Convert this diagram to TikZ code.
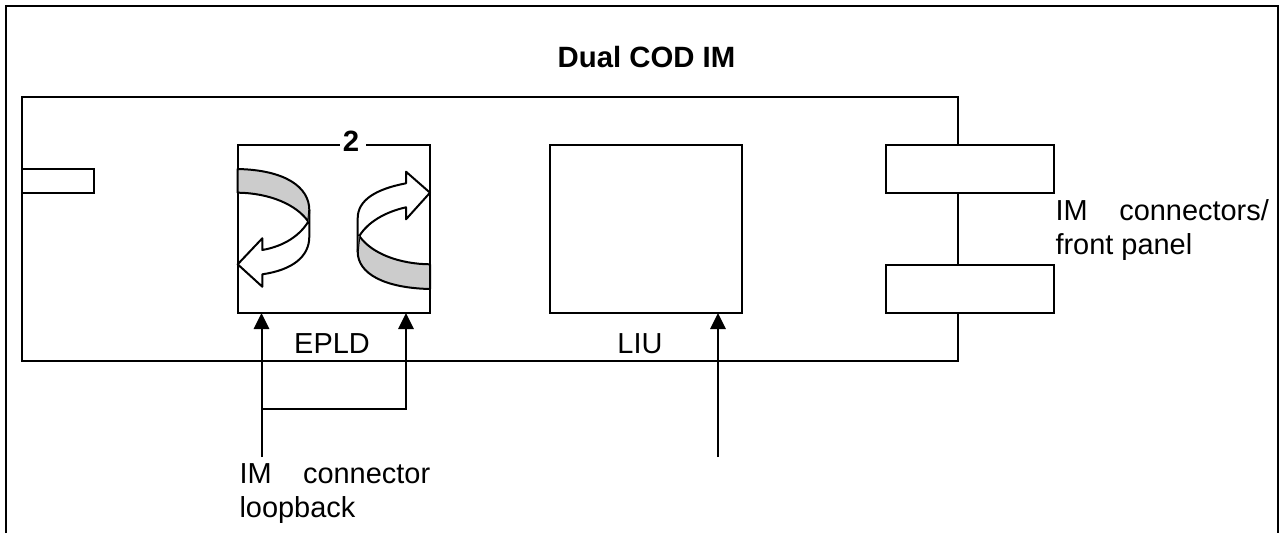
\documentclass[tikz,border=0pt]{standalone}
\usepackage{fontspec}
\setmainfont{Liberation Sans}
\usetikzlibrary{
	arrows.meta,
}
\tikzset{
	every node/.style={inner sep=0pt},
	blockbox/.style={draw=black,fill=white,minimum width=144pt,minimum height=126pt},
	portbox/.style={draw=black,fill=white,minimum width=126pt,minimum height=36pt},
	caption/.style={font=\fontsize{21.7}{25.5}\selectfont},
	titlelabel/.style={font=\fontsize{22}{26}\selectfont\bfseries},
	sigline/.style={draw=black,-{Triangle[length=12pt,width=11.5pt]}},
	ribbon/.style={draw=black,fill=white,line join=round},
	ribbonback/.style={draw=black,fill=black!20,line join=round},
}
\begin{document}
\begin{tikzpicture}[x=0.75pt,y=-0.75pt,line width=1.5pt]
		\useasboundingbox (0,0) rectangle (1281,533);
		\draw [black] (6,533) -- (6,6) -- (1278,6) -- (1278,533);
		\node [titlelabel] (title) at (646.5,57.5) {Dual COD IM};
		\draw [black] (22,97) rectangle (958,361);
		\draw [black] (22,169) rectangle (94,193);
		\node [blockbox] (epld) at (334,229) {};
		\node [blockbox] (liu) at (646,229) {};
		\node [portbox] (portup) at (970,169) {};
		\node [portbox] (portdown) at (970,289) {};
		\node [titlelabel,fill=white,minimum width=19pt,minimum height=14pt] (blockno) at (353,141) {\hspace{-3pt}2};
		\node [caption] (epldlabel) at (332,344) {EPLD};
		\node [caption] (liulabel) at (640,344) {LIU};
		\node [caption,text width=160pt,align=justify,anchor=north west] (portlabel) at (1054.5,199) {IM connectors/ front panel};
		\node [caption,text width=143pt,align=justify,anchor=north west] (looplabel) at (238.5,462.5) {IM connector loopback};
		% left ribbon
		\draw [ribbonback] (237.7,169) .. controls (285,170) and (309.3,187) .. (309.3,210) -- (308.3,221.7) .. controls (297,205) and (270,193) .. (237.7,192.7) -- cycle;
		\draw [ribbon] (308.3,221.7) .. controls (300,235) and (285,246) .. (262.3,250) -- (262.3,238.3) -- (237.7,264.3) -- (262.3,286.7) -- (262.3,274.3) .. controls (292,270) and (309.3,257) .. (309.3,236.7) -- (309.3,210);
		% right ribbon
		\draw [ribbonback] (359.3,236) .. controls (372,254) and (400,264) .. (430,264.3) -- (430,289) .. controls (385,288) and (357.7,274) .. (357.7,251.7) -- cycle;
		\draw [ribbon] (359.3,236) .. controls (368,222) and (385,212) .. (406,207.3) -- (406,219.3) -- (430,192.7) -- (406,171.7) -- (406,183.3) .. controls (376,189) and (357.7,200) .. (357.7,218.3) -- (357.7,251.7);
		% inputs
		\coordinate (looptail) at (261.5,457);
		\coordinate (loopjoin) at (261.5,408.5);
		\coordinate (branchjoin) at (406,408.5);
		\coordinate (loophead) at (261.5,313);
		\coordinate (branchhead) at (406,313);
		\coordinate (liutail) at (718,457);
		\coordinate (liuhead) at (718,313);
		\draw [sigline] (looptail) -- (loophead);
		\draw [sigline] (loopjoin) -- (branchjoin) -- (branchhead);
		\draw [sigline] (liutail) -- (liuhead);
		\end{tikzpicture}
\end{document}
